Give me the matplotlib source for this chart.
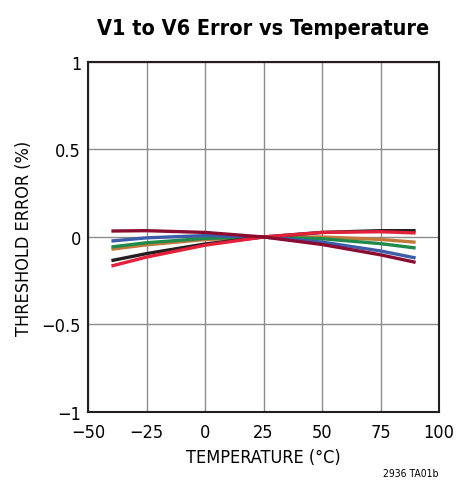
import matplotlib
matplotlib.use("Agg")
import matplotlib.pyplot as plt
from matplotlib import font_manager

# temperature points (°C) and threshold error (%) per channel
temp = [-40, -25, 0, 25, 50, 75, 90]
err_black = [-0.135, -0.095, -0.040, 0.0, 0.026, 0.036, 0.036]
err_red = [-0.166, -0.115, -0.047, 0.0, 0.026, 0.030, 0.023]
err_maroon = [0.034, 0.036, 0.026, 0.0, -0.043, -0.102, -0.145]
err_blue = [-0.023, -0.005, 0.008, 0.0, -0.029, -0.080, -0.120]
err_green = [-0.057, -0.033, -0.008, 0.0, -0.010, -0.038, -0.063]
err_orange = [-0.070, -0.045, -0.015, 0.0, 0.000, -0.014, -0.030]

xticks = [-50, -25, 0, 25, 50, 75, 100]
yticks = [-1, -0.5, 0, 0.5, 1]
yticklabels = ["\u22121", "\u22120.5", "0", "0.5", "1"]
xticklabels = ["\u221250", "\u221225", "0", "25", "50", "75", "100"]

# look for a condensed face; the reference uses a narrow Helvetica
cond = [f for f in font_manager.fontManager.ttflist
        if "condensed" in str(f.stretch).lower() or "Narrow" in f.name
        or "Condensed" in f.name]
if cond:
    plt.rcParams["font.family"] = [cond[0].name, "DejaVu Sans"]
    plt.rcParams["font.stretch"] = "condensed"
    fs, fs_title = 13, 15.5
else:
    plt.rcParams["font.family"] = ["Liberation Sans", "DejaVu Sans"]
    fs, fs_title = 11.5, 14.5

fig = plt.figure(figsize=(4.64, 4.81), dpi=100)
ax = fig.add_axes([0.1897, 0.1414, 0.7565, 0.7277])

series = [
    (err_orange, "#c27a3c"),
    (err_green, "#1f8a4a"),
    (err_blue, "#3d5caa"),
    (err_black, "#231f20"),
    (err_red, "#e3213b"),
    (err_maroon, "#8a0c30"),
]
for ys, c in series:
    ax.plot(temp, ys, color=c, lw=2.4, solid_capstyle="butt")

ax.set_xlim(-50, 100)
ax.set_ylim(-1, 1)
ax.set_xticks(xticks)
ax.set_xticklabels(xticklabels)
ax.set_yticks(yticks)
ax.set_yticklabels(yticklabels)
ax.tick_params(length=0, labelsize=fs)
ax.tick_params(axis="x", pad=8)
ax.tick_params(axis="y", pad=5)
ax.grid(True, color="#8c8c8c", lw=1.0)
ax.set_axisbelow(True)
for s in ax.spines.values():
    s.set_linewidth(1.5)
    s.set_color("#231f20")

ax.set_xlabel("TEMPERATURE (\u00b0C)", fontsize=fs, labelpad=5)
ax.set_ylabel("THRESHOLD ERROR (%)", fontsize=fs, labelpad=6)
ax.set_title("V1 to V6 Error vs Temperature", fontsize=fs_title, fontweight="bold", pad=20)
fig.text(0.945, 0.005, "2936 TA01b", fontsize=7.5, ha="right", va="bottom")

fig.savefig("out.png", dpi=100)
